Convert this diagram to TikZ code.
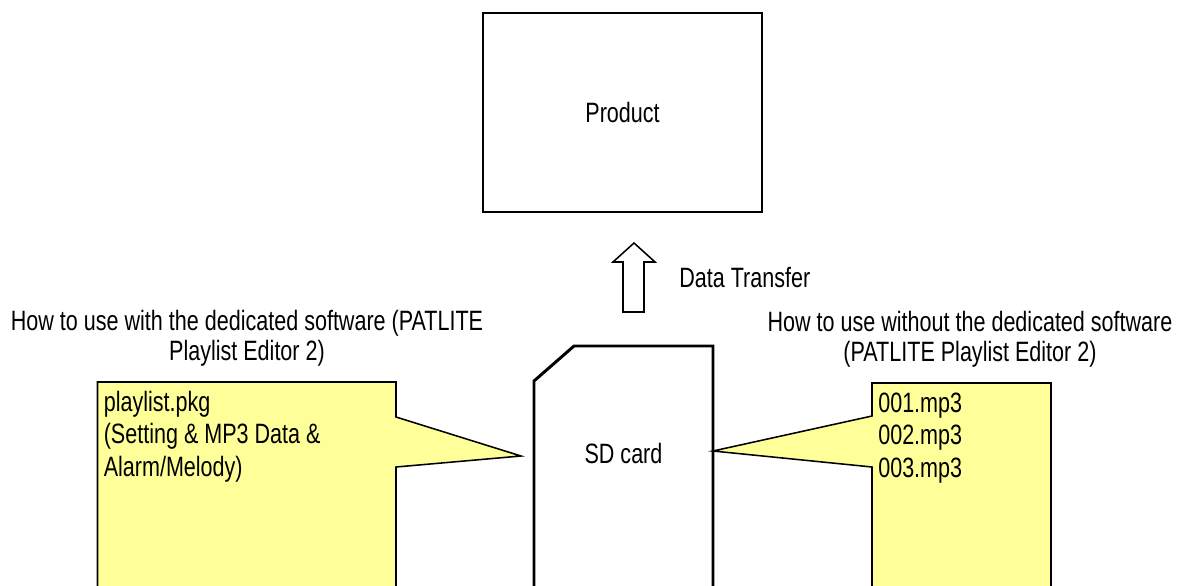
\documentclass[tikz,border=0pt]{standalone}
\usepackage{fontspec}
\setmainfont[FakeStretch=0.77]{Liberation Sans}
\usepackage{xcolor}
\usepackage{tikz}
\definecolor{memoY}{HTML}{FFFF99}

\begin{document}
\begin{tikzpicture}[x=0.025cm, y=-0.025cm,
  lbl/.style={inner sep=0pt, font=\fontsize{19.9}{23}\selectfont},
  head/.style={lbl, align=center, anchor=base, font=\fontsize{19.9}{21}\selectfont},
  memo/.style={draw, line width=1.1pt, fill=memoY, line join=miter}]%
\useasboundingbox (0,0) rectangle (1189,585);%
\clip (0,0) rectangle (1189,585);%
% product box
\node[draw, line width=1.4pt, inner sep=0pt, minimum width=6.975cm, minimum height=4.975cm, lbl] (product) at (622.5,112.5) {Product};%
% hollow arrow, card to product
\draw[line width=1.1pt, line join=miter] (623,312) -- (623,262) -- (613,262) -- (634,243) -- (655,262) -- (644,262) -- (644,312) -- cycle;%
\node[lbl, anchor=base west] (xfer) at (679,287) {Data Transfer};%
% sd card
\draw[line width=2.1pt, line join=miter] (534,600) -- (534,381) -- (574,346) -- (713,346) -- (713,600);%
\node[lbl, anchor=base] (sd) at (623.5,463) {SD card};%
% with the software (anchor = last line)
\node[head] (withhead) at (247,360) {How to use with the dedicated software (PATLITE\\Playlist Editor 2)};%
\draw[memo] (97.5,382) -- (396,382) -- (396,417) -- (521,456) -- (396,467) -- (396,600) -- (97.5,600) -- cycle;%
\node[lbl, align=left, anchor=base west] (pkg) at (103.5,476) {playlist.pkg\\(Setting \& MP3 Data \&\\Alarm/Melody)};%
% without the software
\node[head] (withouthead) at (970,361) {How to use without the dedicated software\\(PATLITE Playlist Editor 2)};%
\draw[memo] (872,383) -- (1051,383) -- (1051,600) -- (872,600) -- (872,467) -- (713,451) -- (872,416) -- cycle;%
\node[lbl, align=left, anchor=base west] (mp3) at (878,477) {001.mp3\\002.mp3\\003.mp3};%
\end{tikzpicture}
\end{document}
